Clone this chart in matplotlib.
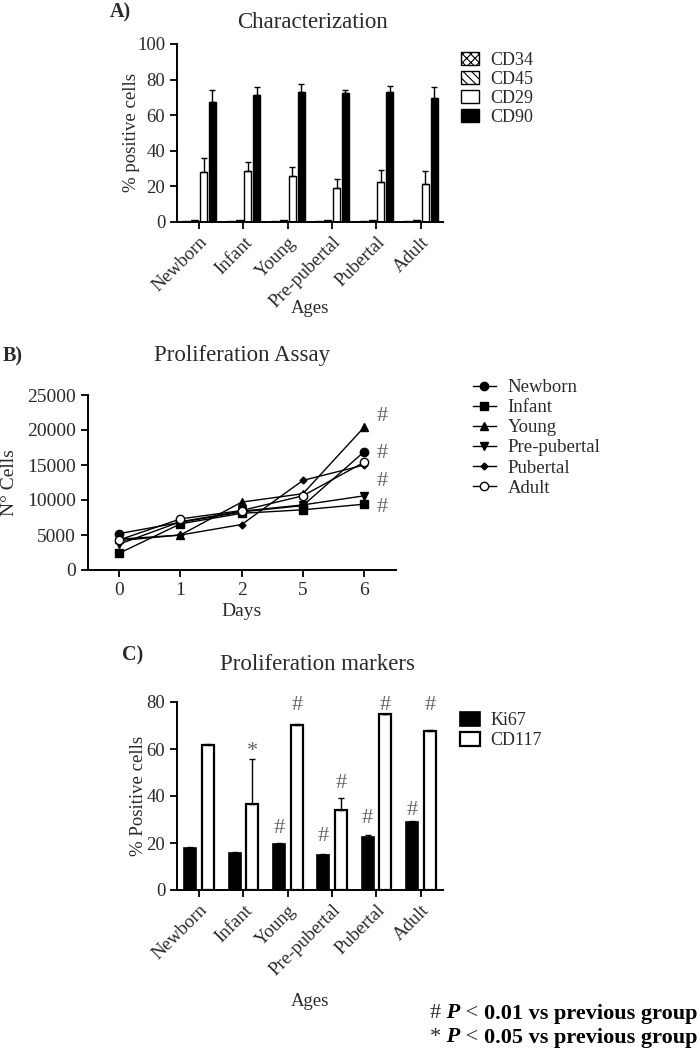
import numpy as np
import matplotlib
matplotlib.use('Agg')
import matplotlib.pyplot as plt

plt.rcParams['font.family'] = ['Liberation Serif', 'DejaVu Serif']
plt.rcParams['hatch.linewidth'] = 0.8
TXT = '#2a2a2a'

# ---- data ----
ages = ['Newborn', 'Infant', 'Young', 'Pre-pubertal', 'Pubertal', 'Adult']

# A) characterization (% positive cells, mean and upper error)
cd34 = [0.8, 0.8, 0.8, 0.8, 0.8, 0.8]
cd45 = [0.9, 0.9, 0.9, 0.9, 0.9, 0.9]
cd29 = [28.2, 28.6, 25.9, 19.2, 22.4, 21.6]
cd29_err = [7.9, 5.2, 5.1, 5.2, 6.7, 7.0]
cd90 = [67.3, 71.1, 73.3, 72.4, 73.3, 69.7]
cd90_err = [6.6, 5.0, 4.1, 1.8, 3.2, 6.1]

# B) proliferation assay (cell number per day)
days = ['0', '1', '2', '5', '6']
newborn = [5200, 6800, 8300, 9200, 16900]
infant = [2400, 6600, 8100, 8600, 9400]
young = [4400, 5000, 9700, 10900, 20400]
prepubertal = [3700, 6900, 8400, 9300, 10600]
pubertal = [4200, 5000, 6500, 12800, 15000]
adult = [4300, 7300, 8500, 10600, 15400]
b_marks_y = [21900, 16600, 12700, 9000]

# C) proliferation markers
ki67 = [17.7, 15.9, 19.5, 14.9, 22.7, 29.0]
ki67_err = [0.5, 0.3, 0.6, 0.4, 0.5, 0.3]
cd117 = [61.5, 36.5, 70.1, 33.9, 74.8, 67.7]
cd117_err = [0.5, 19.2, 0.4, 5.1, 0.3, 0.2]
ki67_marks = ['', '', '#', '#', '#', '#']
ki67_marks_y = [0, 0, 26.0, 22.7, 30.5, 34.0]
cd117_marks = ['', '*', '#', '#', '#', '#']
cd117_marks_y = [0, 59.0, 78.6, 45.3, 78.6, 78.6]


def style_axis(ax, labelsize=13):
    for s in ['top', 'right']:
        ax.spines[s].set_visible(False)
    for s in ['left', 'bottom']:
        ax.spines[s].set_linewidth(1.4)
    ax.tick_params(direction='out', length=5, width=1.3, labelsize=labelsize,
                   colors='black', labelcolor=TXT)


fig = plt.figure(figsize=(7, 10.55), dpi=100)
W, H = 700.0, 1055.0

# ---------------- A ----------------
axA = fig.add_axes([177 / W, 1 - 222 / H, 266 / W, 178 / H])
x = np.arange(len(ages))
bw = 0.16
offs = [-0.3, -0.1, 0.1, 0.3]
axA.bar(x + offs[0], cd34, bw, facecolor='white', edgecolor='black', hatch='xxxx', lw=1, label='CD34')
axA.bar(x + offs[1], cd45, bw, facecolor='white', edgecolor='black', hatch='\\\\\\\\', lw=1, label='CD45')
axA.bar(x + offs[2], cd29, bw, facecolor='white', edgecolor='black', lw=1, label='CD29')
axA.bar(x + offs[3], cd90, bw, facecolor='black', edgecolor='black', lw=1, label='CD90')
axA.errorbar(x + offs[2], cd29, yerr=[np.zeros(6), cd29_err], fmt='none', ecolor='black', elinewidth=1, capsize=2.5)
axA.errorbar(x + offs[3], cd90, yerr=[np.zeros(6), cd90_err], fmt='none', ecolor='black', elinewidth=1, capsize=2.5)
axA.set_xlim(-0.5, 5.5)
axA.set_ylim(0, 100)
axA.set_yticks([0, 20, 40, 60, 80, 100])
axA.set_xticks(x)
axA.set_xticklabels(ages, rotation=45, ha='right', rotation_mode='anchor', fontsize=12.5)
style_axis(axA, 13.5)
axA.set_ylabel('% positive cells', fontsize=13.5, color=TXT)
axA.yaxis.set_label_coords(-0.139, 0.5)
axA.set_xlabel('Ages', fontsize=13.5, color=TXT)
axA.xaxis.set_label_coords(0.5, -0.438)
axA.legend(loc='upper left', bbox_to_anchor=(461 / W, 1 - 52 / H), bbox_transform=fig.transFigure,
           frameon=False, fontsize=13, borderpad=0, borderaxespad=0, handlelength=1.0,
           handleheight=0.75, handletextpad=0.6, labelspacing=0.11, labelcolor=TXT)
fig.text(312 / W, 1 - 22 / H, 'Characterization', ha='center', va='center', fontsize=16.5, color=TXT)
fig.text(110 / W, 1 - 12 / H, 'A)', ha='left', va='center', fontsize=14.5, fontweight='bold', color=TXT)

# ---------------- B ----------------
axB = fig.add_axes([88 / W, 1 - 570 / H, 308 / W, 175 / H])
xd = np.arange(len(days))
series = [('Newborn', newborn, 'o', 'black', 6),
          ('Infant', infant, 's', 'black', 6),
          ('Young', young, '^', 'black', 6),
          ('Pre-pubertal', prepubertal, 'v', 'black', 6),
          ('Pubertal', pubertal, 'D', 'black', 3.5),
          ('Adult', adult, 'o', 'white', 6)]
for name, vals, mk, fc, ms in series:
    axB.plot(xd, vals, color='black', lw=1, marker=mk, ms=ms, mfc=fc, mec='black', mew=1, label=name)
for yv in b_marks_y:
    axB.text(4.3, yv, '#', ha='center', va='center', fontsize=16, color='#666666')
axB.set_xlim(-0.51, 4.52)
axB.set_ylim(0, 25000)
axB.set_yticks([0, 5000, 10000, 15000, 20000, 25000])
axB.set_xticks(xd)
axB.set_xticklabels(days)
style_axis(axB, 14)
axB.set_ylabel('N° Cells', fontsize=14, color=TXT)
axB.yaxis.set_label_coords(-0.226, 0.5)
axB.set_xlabel('Days', fontsize=14, color=TXT)
axB.xaxis.set_label_coords(0.5, -0.19)
axB.legend(loc='upper left', bbox_to_anchor=(473 / W, 1 - 379 / H), bbox_transform=fig.transFigure,
           frameon=False, fontsize=13.5, borderpad=0, borderaxespad=0, handlelength=1.2,
           handletextpad=0.65, labelspacing=0.16, labelcolor=TXT)
fig.text(242 / W, 1 - 356 / H, 'Proliferation Assay', ha='center', va='center', fontsize=16.5, color=TXT)
fig.text(3 / W, 1 - 356 / H, 'B)', ha='left', va='center', fontsize=14.5, fontweight='bold', color=TXT)

# ---------------- C ----------------
axC = fig.add_axes([177 / W, 1 - 890 / H, 266 / W, 188 / H])
bw2 = 0.27
axC.bar(x - 0.2, ki67, bw2, facecolor='black', edgecolor='black', lw=1.2, label='Ki67')
axC.bar(x + 0.2, cd117, bw2, facecolor='white', edgecolor='black', lw=1.6, label='CD117')
axC.errorbar(x - 0.2, ki67, yerr=[np.zeros(6), ki67_err], fmt='none', ecolor='black', elinewidth=1, capsize=2.5)
axC.errorbar(x + 0.2, cd117, yerr=[np.zeros(6), cd117_err], fmt='none', ecolor='black', elinewidth=1, capsize=2.5)
for i in range(len(ages)):
    if ki67_marks[i]:
        axC.text(x[i] - 0.2, ki67_marks_y[i], ki67_marks[i], ha='center', va='center', fontsize=16, color='#666666')
    if cd117_marks[i]:
        axC.text(x[i] + 0.2, cd117_marks_y[i], cd117_marks[i], ha='center', va='center', fontsize=16, color='#666666')
axC.set_xlim(-0.5, 5.5)
axC.set_ylim(0, 80)
axC.set_yticks([0, 20, 40, 60, 80])
axC.set_xticks(x)
axC.set_xticklabels(ages, rotation=45, ha='right', rotation_mode='anchor', fontsize=12.5)
style_axis(axC, 13.5)
axC.set_ylabel('% Positive cells', fontsize=13.5, color=TXT)
axC.yaxis.set_label_coords(-0.113, 0.5)
axC.set_xlabel('Ages', fontsize=13.5, color=TXT)
axC.xaxis.set_label_coords(0.5, -0.548)
axC.legend(loc='upper left', bbox_to_anchor=(460 / W, 1 - 712 / H), bbox_transform=fig.transFigure,
           frameon=False, fontsize=13, borderpad=0, borderaxespad=0, handlelength=1.1,
           handleheight=0.85, handletextpad=0.6, labelspacing=0.13, labelcolor=TXT)
fig.text(318 / W, 1 - 664 / H, 'Proliferation markers', ha='center', va='center', fontsize=16.5, color=TXT)
fig.text(122 / W, 1 - 655 / H, 'C)', ha='left', va='center', fontsize=14.5, fontweight='bold', color=TXT)

# ---------------- footnote ----------------
for sym, pval, ypx in [('#', '0.01', 1014), ('*', '0.05', 1038)]:
    prev = fig.text(430 / W, 1 - ypx / H, sym, ha='left', va='center', fontsize=16, color=TXT)
    parts = [(' P', 'bold', 'italic', 'black'),
             (' < ', 'normal', 'normal', TXT),
             (pval + ' vs previous group', 'bold', 'normal', 'black')]
    for txt, wt, st, col in parts:
        prev = axA.annotate(txt, xy=(1, 0), xycoords=prev, va='bottom', ha='left',
                            fontsize=16, fontweight=wt, fontstyle=st, color=col,
                            annotation_clip=False)

fig.savefig('out.png', dpi=100)
